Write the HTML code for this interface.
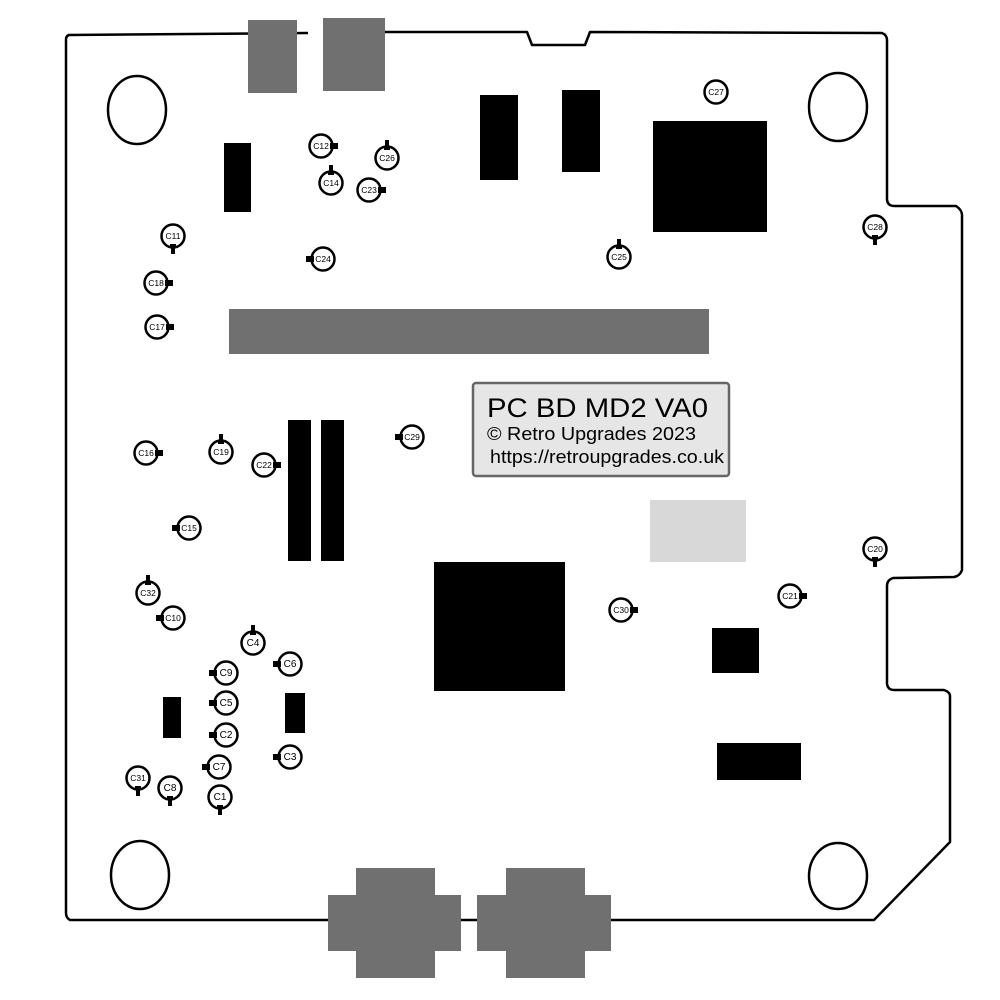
<!DOCTYPE html>
<html><head><meta charset="utf-8"><style>
html,body{margin:0;padding:0;background:#fff;width:1000px;height:1000px;overflow:hidden}
svg text{font-family:"Liberation Sans",sans-serif}
</style></head><body>
<svg width="1000" height="1000" viewBox="0 0 1000 1000" xmlns="http://www.w3.org/2000/svg">
<rect width="1000" height="1000" fill="#fff"/>
<path d="M68,35 L308,33 M385,32 L527,32 L532,45 L585,45 L590,32 L882,33 Q887,35 887,40 L887,200 Q888,206 894,206 L956,206 Q962,210 962,215 L962,570 Q960,576 954,577 L893,578 Q887,580 887,586 L887,684 Q888,690 894,690 L944,690 Q950,692 950,696 L950,842 L874,920 L70,920 Q66,918 66,913 L66,40 Q66,35 70,35" fill="none" stroke="#000" stroke-width="2.5" stroke-linejoin="round"/>
<g fill="none" stroke="#000" stroke-width="2.5">
<ellipse cx="137" cy="110" rx="29" ry="34"/>
<ellipse cx="838" cy="107" rx="29" ry="34"/>
<ellipse cx="140" cy="875" rx="29" ry="34"/>
<ellipse cx="838" cy="876" rx="29" ry="33"/>
</g>
<g fill="#707070">
<rect x="248" y="20" width="49" height="73"/>
<rect x="323" y="18" width="62" height="73"/>
<rect x="229" y="309" width="480" height="45"/>
<rect x="328" y="895" width="133" height="56"/>
<rect x="356" y="868" width="79" height="110"/>
<rect x="477" y="895" width="134" height="56"/>
<rect x="506" y="868" width="79" height="110"/>
</g>
<rect x="650" y="500" width="96" height="62" fill="#d8d8d8"/>
<g fill="#000">
<rect x="224" y="143" width="27" height="69"/>
<rect x="480" y="95" width="38" height="85"/>
<rect x="562" y="90" width="38" height="82"/>
<rect x="653" y="121" width="114" height="111"/>
<rect x="288" y="420" width="23" height="141"/>
<rect x="321" y="420" width="23" height="141"/>
<rect x="434" y="562" width="131" height="129"/>
<rect x="712" y="628" width="47" height="45"/>
<rect x="717" y="743" width="84" height="37"/>
<rect x="163" y="697" width="18" height="41"/>
<rect x="285" y="693" width="20" height="40"/>
</g>
<rect x="473" y="383" width="256" height="93" rx="3" fill="#e6e6e6" stroke="#666" stroke-width="2.5"/>
<text x="487" y="417" font-size="27" textLength="221" lengthAdjust="spacingAndGlyphs">PC BD MD2 VA0</text>
<text x="487" y="440" font-size="18.5" textLength="209" lengthAdjust="spacingAndGlyphs">© Retro Upgrades 2023</text>
<text x="490" y="463" font-size="18.5" textLength="234" lengthAdjust="spacingAndGlyphs">https://retroupgrades.co.uk</text>
<g id="caps" stroke="#000" font-size="9">
</g>
</svg>
<script>
var caps=[
["C12",321,146,"r"],["C26",387,158,"u"],["C14",331,183,"u"],["C23",369,190,"r"],["C27",716,92,""],
["C11",173,236,"d"],["C24",323,259,"l"],["C25",619,257,"u"],["C28",875,227,"d"],["C18",156,283,"r"],
["C17",157,327,"r"],["C16",146,453,"r"],["C19",221,452,"u"],["C22",264,465,"r"],["C29",412,437,"l"],
["C15",189,528,"l"],["C20",875,549,"d"],["C32",148,593,"u"],["C10",173,618,"l"],["C30",621,610,"r"],
["C21",790,596,"r"],["C4",253,643,"u"],["C6",290,664,"l"],["C9",226,673,"l"],["C5",226,703,"l"],
["C2",226,735,"l"],["C3",290,757,"l"],["C7",219,767,"l"],["C31",138,778,"d"],["C8",170,788,"d"],["C1",220,797,"d"]];
var g=document.getElementById("caps"),h="";
caps.forEach(function(c){var x=c[1],y=c[2],d=c[3];
h+='<circle cx="'+x+'" cy="'+y+'" r="11.5" fill="#fff" stroke-width="2.5"/>';
if(d=="r")h+='<rect x="'+(x+9)+'" y="'+(y-3)+'" width="8" height="6" fill="#000" stroke="none"/>';
if(d=="l")h+='<rect x="'+(x-17)+'" y="'+(y-3)+'" width="8" height="6" fill="#000" stroke="none"/>';
if(d=="u")h+='<rect x="'+(x-2)+'" y="'+(y-18)+'" width="4" height="9" fill="#000" stroke="none"/><rect x="'+(x-3)+'" y="'+(y-12)+'" width="6" height="4" fill="#000" stroke="none"/>';
if(d=="d")h+='<rect x="'+(x-2)+'" y="'+(y+9)+'" width="4" height="9" fill="#000" stroke="none"/><rect x="'+(x-3)+'" y="'+(y+8)+'" width="6" height="4" fill="#000" stroke="none"/>';
h+='<text x="'+x+'" y="'+(y+3)+'" text-anchor="middle" stroke="none" fill="#000" font-size="'+(c[0].length>2?8.5:10)+'">'+c[0]+'</text>';});
g.innerHTML=h;
</script>
</body></html>
